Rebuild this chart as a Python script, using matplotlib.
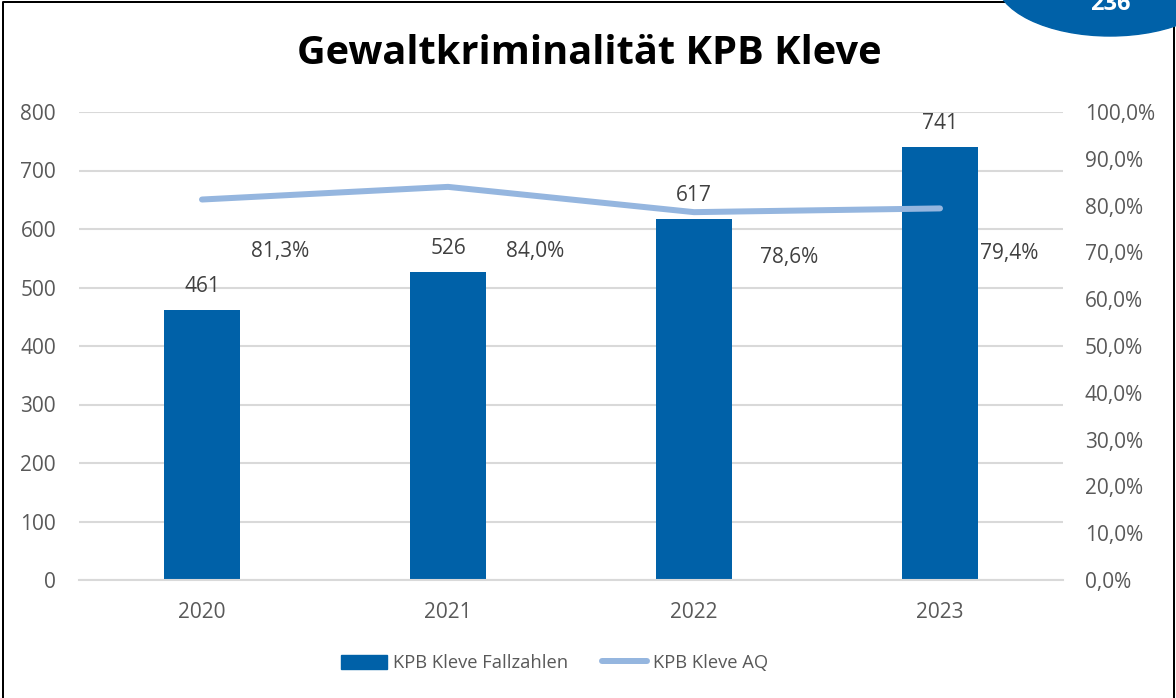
import matplotlib
matplotlib.use("Agg")
import matplotlib.pyplot as plt
from matplotlib.patches import Ellipse, Rectangle
from matplotlib.lines import Line2D
from matplotlib.ticker import FuncFormatter, MultipleLocator

years = ["2020", "2021", "2022", "2023"]
fallzahlen = [461, 526, 617, 741]
aq = [0.813, 0.840, 0.786, 0.794]
title = "Gewaltkriminalität KPB Kleve"
bar_label = "KPB Kleve Fallzahlen"
line_label = "KPB Kleve AQ"
page_number = "236"

# label offsets (pixels) for AQ labels relative to points
aq_offsets_px = [(78, -57), (87, -70), (95, -51), (69, -51)]

BAR_C = "#0061A8"
LINE_C = "#95B6DF"
GRID_C = "#D9D9D9"
TICK_C = "#595959"
LAB_C = "#404040"
FONT = "Open Sans"

plt.rcParams["font.family"] = [FONT, "DejaVu Sans"]

W, H = 1176, 698
fig = plt.figure(figsize=(W / 100, H / 100), dpi=100)
PX = 72 / 100.0  # points per pixel

ax = fig.add_axes([79 / W, 1 - 580 / H, (1063 - 79) / W, (580 - 112) / H])
ax2 = ax.twinx()

x = list(range(len(years)))
ax.bar(x, fallzahlen, width=0.31, color=BAR_C, zorder=2)
ax.set_xlim(-0.5, len(years) - 0.5)
ax.set_ylim(0, 800)
ax.yaxis.set_major_locator(MultipleLocator(100))
ax.set_xticks(x)
ax.set_xticklabels(years)
ax.grid(axis="y", color=GRID_C, linewidth=1.5, zorder=0)
ax.set_axisbelow(True)
for s in ax.spines.values():
    s.set_visible(False)
for s in ax2.spines.values():
    s.set_visible(False)
ax.spines["bottom"].set_visible(True)
ax.spines["bottom"].set_color(GRID_C)
ax.spines["bottom"].set_linewidth(1.5)
ax.tick_params(axis="both", length=0, labelsize=15, colors=TICK_C)
ax.tick_params(axis="y", pad=23 * PX)
ax.tick_params(axis="x", pad=22 * PX)

ax2.plot(x, aq, color=LINE_C, linewidth=6 * PX, solid_capstyle="round",
         solid_joinstyle="round", zorder=3)
ax2.set_ylim(0, 1)
ax2.yaxis.set_major_locator(MultipleLocator(0.1))
ax2.yaxis.set_major_formatter(FuncFormatter(lambda v, p: f"{v*100:.1f}%".replace(".", ",")))
ax2.tick_params(axis="y", length=0, labelsize=15, colors=TICK_C, pad=22 * PX)

for xi, v in zip(x, fallzahlen):
    ax.annotate(str(v), (xi, v), xytext=(0, 18 * PX), textcoords="offset points",
                ha="center", va="baseline", fontsize=15, color=LAB_C)
for xi, v, (dx, dy) in zip(x, aq, aq_offsets_px):
    ax2.annotate(f"{v*100:.1f}%".replace(".", ","), (xi, v), xytext=(dx * PX, dy * PX),
                 textcoords="offset points", ha="center", va="baseline",
                 fontsize=15, color=LAB_C)

fig.text(589 / W, 1 - 53 / H, title, ha="center", va="center", fontsize=28.6,
         fontweight="bold", color="black")

# legend
handles = [Rectangle((0, 0), 1, 1, color=BAR_C),
           Line2D([0], [0], color=LINE_C, linewidth=6 * PX, solid_capstyle="round")]
fig.legend(handles, [bar_label, line_label], loc="center", bbox_to_anchor=(555 / W, 1 - 663 / H),
           ncol=2, frameon=False, fontsize=13.2, labelcolor=TICK_C, handlelength=2.5,
           handleheight=0.8, handletextpad=0.33, columnspacing=1.8)

# frame
frame_ax = fig.add_axes([0, 0, 1, 1], zorder=-1)
frame_ax.set_xlim(0, W)
frame_ax.set_ylim(H, 0)
frame_ax.axis("off")
frame_ax.plot([2.5, 2.5, 1173.5, 1173.5], [H + 5, 1.5, 1.5, H + 5], color="black", linewidth=2 * PX)

over = fig.add_axes([0, 0, 1, 1], zorder=10)
over.set_xlim(0, W)
over.set_ylim(H, 0)
over.axis("off")
over.add_patch(Ellipse((1110, -20), 228, 112, color=BAR_C))
over.text(1110, 10, page_number, ha="center", va="baseline", fontsize=17,
          fontweight="bold", color="white")

fig.savefig("out.png", dpi=100)
